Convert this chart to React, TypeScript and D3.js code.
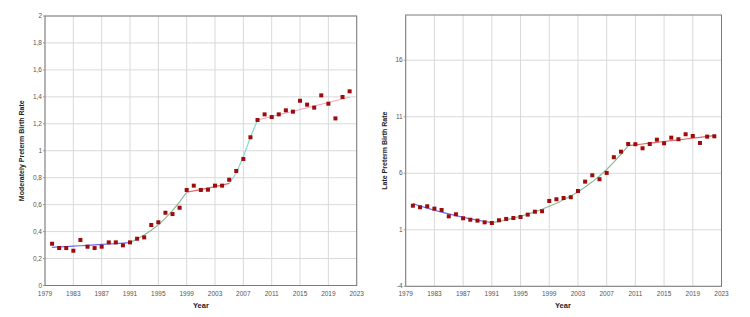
import React from "react";
import * as d3 from "d3";

// ---------- data ----------
const years: number[] = d3.range(1980, 2023);

const moderateRates: number[] = [
  0.31, 0.278, 0.278, 0.258, 0.338, 0.288, 0.278, 0.288, 0.32, 0.32, 0.298, 0.32,
  0.347, 0.357, 0.449, 0.469, 0.54, 0.53, 0.577, 0.709, 0.741, 0.709, 0.711, 0.741,
  0.741, 0.785, 0.85, 0.939, 1.1, 1.228, 1.27, 1.25, 1.27, 1.3, 1.29, 1.371, 1.342,
  1.32, 1.411, 1.349, 1.24, 1.399, 1.441,
];

const lateRates: number[] = [
  3.13, 2.99, 3.08, 2.87, 2.75, 2.19, 2.37, 2.02, 1.89, 1.81, 1.66, 1.6, 1.84, 1.96,
  2.04, 2.13, 2.34, 2.6, 2.64, 3.55, 3.7, 3.81, 3.88, 4.43, 5.26, 5.82, 5.47, 6.03,
  7.42, 7.91, 8.59, 8.57, 8.21, 8.59, 8.97, 8.65, 9.15, 9.01, 9.45, 9.3, 8.68, 9.24,
  9.27,
];

// fitted joinpoint segments (start year + fitted values per year)
const moderateFit1Start = 1980;
const moderateFit1: number[] = [0.283, 0.286, 0.289, 0.292, 0.295, 0.298, 0.302, 0.305, 0.308, 0.311, 0.315, 0.318];
const moderateFit2Start = 1991;
const moderateFit2: number[] = [0.318, 0.345, 0.375, 0.41, 0.45, 0.5, 0.555, 0.62, 0.692];
const moderateFit3Start = 1999;
const moderateFit3: number[] = [0.692, 0.702, 0.712, 0.723, 0.734, 0.745, 0.758];
const moderateFit4Start = 2005;
const moderateFit4: number[] = [0.758, 0.835, 0.958, 1.1, 1.228];
const moderateFit5Start = 2009;
const moderateFit5: number[] = [1.228, 1.241, 1.254, 1.267, 1.28, 1.293, 1.306, 1.319, 1.332, 1.345, 1.358, 1.371, 1.384, 1.397];

const lateFit1Start = 1980;
const lateFit1: number[] = [3.31, 3.1, 2.91, 2.73, 2.56, 2.4, 2.25, 2.11, 1.97, 1.85, 1.73, 1.63];
const lateFit2Start = 1991;
const lateFit2: number[] = [1.63, 1.74, 1.87, 2.03, 2.2, 2.38, 2.58, 2.82, 3.08, 3.35, 3.65, 3.98, 4.35, 4.78, 5.24, 5.76, 6.33, 6.98, 7.68, 8.44];
const lateFit3Start = 2010;
const lateFit3: number[] = [8.44, 8.51, 8.59, 8.66, 8.74, 8.81, 8.89, 8.96, 9.03, 9.11, 9.18, 9.26, 9.33];

const xTicks: number[] = d3.range(1979, 2024, 4);
const moderateYTicks: number[] = d3.range(0, 2.01, 0.2);
const lateYTicks: number[] = [-4, 1, 6, 11, 16];

const moderateTitle = "Moderately Preterm Birth Rate";
const lateTitle = "Late Preterm Birth Rate";
const xTitle = "Year";

// ---------- chart ----------
type Seg = { start: number; values: number[]; color: string; dash?: string };

type ChartProps = {
  left: number;
  right: number;
  top: number;
  bottom: number;
  yDomain: [number, number];
  yTicks: number[];
  yFormat: (v: number) => string;
  values: number[];
  segs: Seg[];
  yTitle: string;
  yTitleX: number;
  xTitleX: number;
};

const FONT = "'Liberation Sans', Arial, sans-serif";

function Chart(p: ChartProps) {
  const x = d3.scaleLinear().domain([1979, 2023]).range([p.left, p.right]);
  const y = d3.scaleLinear().domain(p.yDomain).range([p.bottom, p.top]);
  const line = d3
    .line<[number, number]>()
    .x((d) => x(d[0]))
    .y((d) => y(d[1]));
  const midY = (p.top + p.bottom) / 2;
  return (
    <g>
      {xTicks.map((t) => (
        <line key={"gx" + t} x1={x(t)} x2={x(t)} y1={p.top} y2={p.bottom} stroke="#d9d9d9" strokeWidth={1} />
      ))}
      {p.yTicks.map((t) => (
        <line key={"gy" + t} x1={p.left} x2={p.right} y1={y(t)} y2={y(t)} stroke="#d9d9d9" strokeWidth={1} />
      ))}
      <rect x={p.left} y={p.top} width={p.right - p.left} height={p.bottom - p.top} fill="none" stroke="#7a7a7a" strokeWidth={1} />
      {p.yTicks.map((t) => (
        <g key={"ty" + t}>
          <line x1={p.left - 2} x2={p.left} y1={y(t)} y2={y(t)} stroke="#999" />
          <text x={p.left - 3} y={y(t) + 2} fontSize={6.5} fill="#555" textAnchor="end" fontFamily={FONT}>
            {p.yFormat(t)}
          </text>
        </g>
      ))}
      {xTicks.map((t) => (
        <text key={"tx" + t} x={x(t)} y={p.bottom + 10} fontSize={6.5} fill="#555" textAnchor="middle" fontFamily={FONT}>
          {t}
        </text>
      ))}
      <text x={p.xTitleX} y={p.bottom + 22} fontSize={7.5} fontWeight="bold" fill="#222" fontFamily={FONT}>
        {xTitle}
      </text>
      <text
        transform={`translate(${p.yTitleX},${midY}) rotate(-90)`}
        fontSize={7}
        fontWeight="bold"
        fill="#222"
        textAnchor="middle"
        fontFamily={FONT}
      >
        {p.yTitle}
      </text>
      {p.segs.map((s, i) => (
        <path
          key={"s" + i}
          d={line(s.values.map((v, j) => [s.start + j, v] as [number, number])) || ""}
          fill="none"
          stroke={s.color}
          strokeWidth={1.2}
          strokeDasharray={s.dash}
        />
      ))}
      {p.values.map((v, i) => (
        <rect key={"p" + i} x={x(years[i]) - 2} y={y(v) - 2} width={4} height={4} fill="#9e0b0b" />
      ))}
    </g>
  );
}

export default function App() {
  const commaFmt = (v: number) => {
    const r = Math.round(v * 10) / 10;
    return (Number.isInteger(r) ? String(r) : r.toFixed(1)).replace(".", ",");
  };
  return (
    <svg
      width={750}
      height={317}
      viewBox="0 0 750 317"
      style={{ position: "absolute", left: 0, top: 0, background: "#fff" }}
    >
      <rect x={0} y={0} width={750} height={317} fill="#fff" />
      <Chart
        left={45}
        right={356.7}
        top={16}
        bottom={285.5}
        yDomain={[0, 2]}
        yTicks={moderateYTicks}
        yFormat={commaFmt}
        values={moderateRates}
        segs={[
          { start: moderateFit1Start, values: moderateFit1, color: "#6a6af0" },
          { start: moderateFit2Start, values: moderateFit2, color: "#8fb89a" },
          { start: moderateFit3Start, values: moderateFit3, color: "#e06868" },
          { start: moderateFit4Start, values: moderateFit4, color: "#7fdcd4" },
          { start: moderateFit5Start, values: moderateFit5, color: "#f2a6bf" },
        ]}
        yTitle={moderateTitle}
        yTitleX={24}
        xTitleX={193}
      />
      <Chart
        left={405.7}
        right={721.5}
        top={15}
        bottom={286.3}
        yDomain={[-4, 20]}
        yTicks={lateYTicks}
        yFormat={(v) => String(v)}
        values={lateRates}
        segs={[
          { start: lateFit1Start, values: lateFit1, color: "#6a6af0" },
          { start: lateFit2Start, values: lateFit2, color: "#8fb89a" },
          { start: lateFit3Start, values: lateFit3, color: "#e06868" },
        ]}
        yTitle={lateTitle}
        yTitleX={387}
        xTitleX={555}
      />
    </svg>
  );
}
